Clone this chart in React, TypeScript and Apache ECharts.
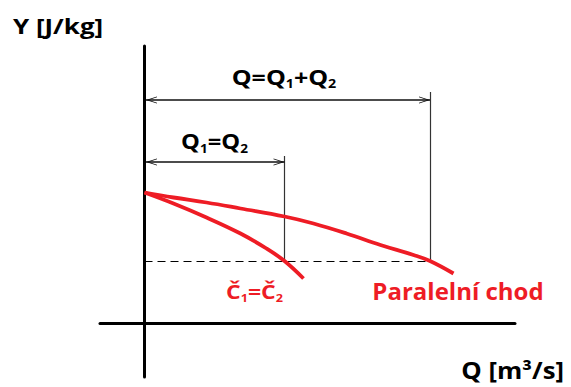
import React, { useEffect, useRef } from "react";
import * as echarts from "echarts";

const RED = "#ee1c25";
const FONT = "'Open Sans', Lato, sans-serif";

// Characteristic of one pump: flow Q against specific energy Y
const singleQ = [0, 2.9, 6.2, 9.6, 12.2, 14.0, 15.9];
const singleY = [13.1, 12.0, 10.6, 9.0, 7.5, 6.25, 4.5];

// Combined characteristic of two identical pumps in parallel
const parallelQ = [0, 2.9, 6.2, 9.6, 14.0, 16.9, 20.2, 23.6, 26.9, 28.55, 30.9];
const parallelY = [13.1, 12.6, 12.1, 11.5, 10.7, 10.0, 9.0, 7.85, 6.85, 6.25, 5.0];

// Operating point and dimension lines
const opY = 6.25;
const q1 = 14.0;
const qSum = 28.55;
const dimYSum = 22.35;
const dimY1 = 16.15;
const extYSum = 23.15;
const extY1 = 16.75;

const xRange = [-4.45, 37.05];
const yRange = [-5.35, 27.75];

// Texts
const labelSum = "Q=Q{s|1}+Q{s|2}";
const label1 = "Q{s|1}=Q{s|2}";
const labelSingle = "Č{s|1}=Č{s|2}";
const labelParallel = "Paralelní chod";
const yName = "Y [J/kg]";
const xName = "Q [m³/s]";

const zip = (xs: number[], ys: number[]) => xs.map((x, i) => [x, ys[i]]);

// Open chevron with its tip at the centre of the box, so the tip sits on the line end
const ARROW =
  "path://M5,10 L10,20 L8.8,20 L5,12.6 L1.2,20 L0,20 Z M5,0 L5.001,0 Z";

const subRich = (size: number, color: string) => ({
  s: {
    fontFamily: FONT,
    fontWeight: "bold",
    fontSize: Math.round(size * 0.55),
    lineHeight: Math.round(size * 1.2 - 0.7 * size * 0.45),
    verticalAlign: "bottom",
    fill: color,
  },
});

// Bold annotation text; wide-set like the original lettering
const note = (
  text: string,
  x: number,
  y: number,
  size: number,
  color: string,
  align: string,
  stretch: number,
  lineHeight = Math.round(size * 1.2)
) => ({
  type: "text",
  x,
  y,
  scaleX: stretch,
  style: {
    text,
    fontFamily: FONT,
    fontWeight: "bold",
    fontSize: size,
    lineHeight,
    fill: color,
    align,
    verticalAlign: "middle",
    rich: subRich(size, color),
  },
});

export default function App() {
  const ref = useRef<HTMLDivElement>(null);

  useEffect(() => {
    if (!ref.current) return;
    const chart = echarts.init(ref.current, null, { renderer: "svg" });

    chart.setOption({
      animation: false,
      backgroundColor: "#fff",
      grid: { left: 100, right: 56, top: 46, bottom: 10 },
      xAxis: {
        type: "value",
        min: xRange[0],
        max: xRange[1],
        axisLine: { onZero: true, lineStyle: { color: "#000", width: 3 } },
        axisTick: { show: false },
        axisLabel: { show: false },
        splitLine: { show: false },
      },
      yAxis: {
        type: "value",
        min: yRange[0],
        max: yRange[1],
        axisLine: { onZero: true, lineStyle: { color: "#000", width: 3 } },
        axisTick: { show: false },
        axisLabel: { show: false },
        splitLine: { show: false },
      },
      series: [
        {
          type: "line",
          name: "single",
          data: zip(singleQ, singleY),
          smooth: 0.4,
          showSymbol: false,
          lineStyle: { color: RED, width: 3.8 },
          z: 5,
        },
        {
          type: "line",
          name: "parallel",
          data: zip(parallelQ, parallelY),
          smooth: 0.4,
          showSymbol: false,
          lineStyle: { color: RED, width: 3.8 },
          z: 5,
        },
        {
          type: "line",
          name: "dimensions",
          data: [],
          z: 3,
          markLine: {
            silent: true,
            symbol: ["none", "none"],
            label: { show: false },
            data: [
              [
                { coord: [0, opY], lineStyle: { color: "#000", width: 1, type: [8, 5] } },
                { coord: [qSum, opY] },
              ],
              [
                { coord: [q1, opY], lineStyle: { color: "#333", width: 1.2, type: "solid" } },
                { coord: [q1, extY1] },
              ],
              [
                { coord: [qSum, opY], lineStyle: { color: "#333", width: 1.2, type: "solid" } },
                { coord: [qSum, extYSum] },
              ],
              [
                {
                  coord: [0.15, dimYSum],
                  symbol: ARROW,
                  symbolSize: [7, 22],
                  lineStyle: { color: "#111", width: 1.5, type: "solid" },
                },
                { coord: [qSum, dimYSum], symbol: ARROW, symbolSize: [7, 22] },
              ],
              [
                {
                  coord: [0.15, dimY1],
                  symbol: ARROW,
                  symbolSize: [7, 22],
                  lineStyle: { color: "#111", width: 1.5, type: "solid" },
                },
                { coord: [q1, dimY1], symbol: ARROW, symbolSize: [7, 22] },
              ],
            ],
          },
        },
      ],
      graphic: [
        note(yName, 13, 25.5, 22, "#000", "left", 1.18),
        note(xName, 564, 370, 23, "#000", "right", 1.12, 23),
        note(labelSum, 284, 77, 21, "#000", "center", 1.19),
        note(label1, 214.5, 141.5, 21, "#000", "center", 1.13),
        note(labelSingle, 254.5, 291, 20, RED, "center", 1.15),
        note(labelParallel, 458, 290.5, 24, RED, "center", 1),
      ],
    });

    return () => chart.dispose();
  }, []);

  return (
    <div
      ref={ref}
      style={{ position: "fixed", left: 0, top: 0, width: 571, height: 387 }}
    />
  );
}
